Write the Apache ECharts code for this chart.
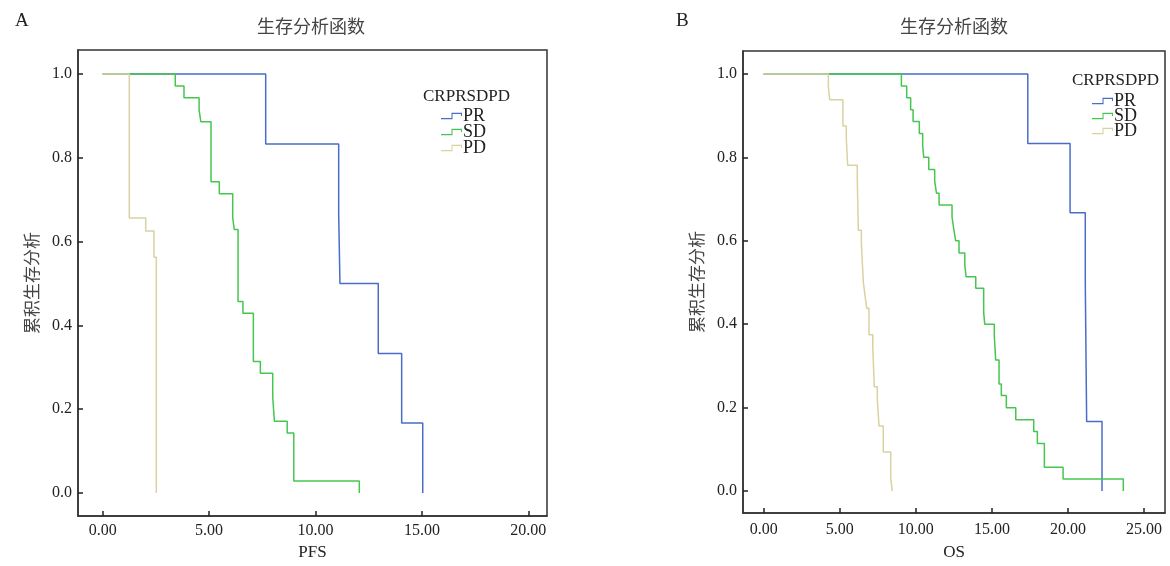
<!DOCTYPE html>
<html>
<head>
<meta charset="utf-8">
<script src="https://cdn.jsdelivr.net/npm/echarts@6/dist/echarts.min.js"></script>
<style>
  html, body { margin: 0; padding: 0; background: #fff; }
  #chart { width: 1170px; height: 566px; }
</style>
</head>
<body>
<div id="chart"></div>
<script>
// 分组
const groups = ['PR', 'SD', 'PD'];
const groupColors = ['#4a6cc9', '#45c64f', '#d9d2a0'];

// PFS (A) 生存时间 / 累积生存率
const pfsTimePR = [0, 7.66, 11.09, 11.15, 12.95, 14.05, 15.04];
const pfsSurvPR = [1, 0.833, 0.667, 0.5, 0.333, 0.167, 0];
const pfsTimeSD = [0, 3.41, 3.82, 4.53, 4.61, 5.09, 5.48, 6.11, 6.18, 6.36, 6.59, 7.08, 7.41, 7.99, 8.07, 8.67, 8.98, 12.06];
const pfsSurvSD = [1, 0.971, 0.943, 0.914, 0.886, 0.743, 0.714, 0.657, 0.629, 0.457, 0.429, 0.314, 0.286, 0.229, 0.171, 0.143, 0.029, 0];
const pfsTimePD = [0, 1.25, 2.02, 2.41, 2.52];
const pfsSurvPD = [1, 0.656, 0.625, 0.5625, 0];

// OS (B)
const osTimePR = [0, 17.36, 20.14, 21.14, 21.23, 22.24];
const osSurvPR = [1, 0.833, 0.667, 0.5, 0.167, 0];
const osTimeSD = [0, 9.05, 9.40, 9.66, 9.82, 10.23, 10.45, 10.52, 10.85, 11.24, 11.36, 11.53, 12.38, 12.49, 12.62, 12.84, 13.22, 13.30, 13.94, 14.46, 14.53, 15.16, 15.25, 15.47, 15.62, 15.95, 16.57, 17.75, 17.99, 18.45, 19.68, 23.64];
const osSurvSD = [1, 0.971, 0.943, 0.914, 0.886, 0.857, 0.829, 0.8, 0.771, 0.743, 0.714, 0.686, 0.657, 0.629, 0.6, 0.571, 0.543, 0.514, 0.486, 0.429, 0.4, 0.371, 0.314, 0.257, 0.229, 0.2, 0.171, 0.143, 0.114, 0.057, 0.029, 0];
const osTimePD = [0, 4.25, 4.34, 5.21, 5.43, 5.52, 6.15, 6.22, 6.42, 6.55, 6.66, 6.77, 6.92, 7.17, 7.27, 7.47, 7.58, 7.86, 8.35, 8.45];
const osSurvPD = [1, 0.969, 0.938, 0.875, 0.844, 0.781, 0.75, 0.625, 0.594, 0.5, 0.469, 0.438, 0.375, 0.344, 0.25, 0.219, 0.156, 0.094, 0.031, 0];

// 刻度
const pfsTicks = [0, 5, 10, 15, 20];
const osTicks = [0, 5, 10, 15, 20, 25];
const survTicks = [0, 0.2, 0.4, 0.6, 0.8, 1.0];

const font = "'Liberation Serif', 'Noto Sans CJK SC', serif";
const cjkFont = "'Noto Sans CJK SC', sans-serif";
const stepIcon = 'path://M0,5 L10,5 L10,0 L20,0 L20,3 L19,3 L19,1 L11,1 L11,6 L0,6 Z';

function zip(t, s) {
  return t.map((v, i) => [v, s[i]]);
}

function xAxisOf(gridIndex, min, max, ticks, name, nameGap, labelMargin) {
  return {
    type: 'value', gridIndex, min, max, name, nameGap,
    nameLocation: 'middle',
    nameTextStyle: { fontFamily: font, fontSize: 17, color: '#222' },
    axisLine: { show: true, onZero: false, lineStyle: { color: '#333', width: 1.5 } },
    axisTick: { show: true, inside: true, length: 5, customValues: ticks, lineStyle: { color: '#222', width: 1.5 } },
    axisLabel: {
      customValues: ticks, margin: labelMargin,
      formatter: v => v.toFixed(2),
      fontFamily: font, fontSize: 16, color: '#222'
    },
    splitLine: { show: false }
  };
}

function yAxisOf(gridIndex, min, max) {
  return {
    type: 'value', gridIndex, min, max,
    name: '累积生存分析',
    nameLocation: 'middle', nameGap: 38, nameRotate: 90,
    nameTextStyle: { fontFamily: cjkFont, fontSize: 17, color: '#444' },
    axisLine: { show: true, onZero: false, lineStyle: { color: '#333', width: 1.5 } },
    axisTick: { show: true, inside: true, length: 5, customValues: survTicks, lineStyle: { color: '#222', width: 1.5 } },
    axisLabel: {
      customValues: survTicks, margin: 6,
      formatter: v => v.toFixed(1),
      fontFamily: font, fontSize: 16, color: '#222'
    },
    splitLine: { show: false }
  };
}

function stepSeries(name, idx, gridIdx, data) {
  return {
    name, type: 'line', step: 'end',
    xAxisIndex: gridIdx, yAxisIndex: gridIdx,
    showSymbol: false, silent: true,
    data,
    itemStyle: { color: groupColors[idx] },
    lineStyle: { color: groupColors[idx], width: 1.5 }
  };
}

function legendOf(left, top, gap) {
  return {
    data: groups, orient: 'vertical', left, top,
    icon: stepIcon, itemWidth: 21, itemHeight: 7, itemGap: gap, padding: 0,
    itemStyle: { borderWidth: 0 },
    selectedMode: false,
    textStyle: { fontFamily: font, fontSize: 18, color: '#222', padding: [0, 0, 0, -4] }
  };
}

let myChart = echarts.init(document.getElementById('chart'));

let option = {
  animation: false,
  backgroundColor: '#fff',
  title: [
    { text: 'A', left: 10, top: 7, textStyle: { fontFamily: font, fontSize: 19, fontWeight: 'normal', color: '#222' } },
    { text: 'B', left: 671, top: 7, textStyle: { fontFamily: font, fontSize: 19, fontWeight: 'normal', color: '#222' } },
    { text: '生存分析函数', left: 306, top: 12, textAlign: 'center', textStyle: { fontFamily: cjkFont, fontSize: 18, fontWeight: 'normal', color: '#444' } },
    { text: '生存分析函数', left: 949, top: 12, textAlign: 'center', textStyle: { fontFamily: cjkFont, fontSize: 18, fontWeight: 'normal', color: '#444' } },
    { text: 'CRPRSDPD', left: 418, top: 83, textStyle: { fontFamily: font, fontSize: 17, fontWeight: 'normal', color: '#222' } },
    { text: 'CRPRSDPD', left: 1067, top: 67, textStyle: { fontFamily: font, fontSize: 17, fontWeight: 'normal', color: '#222' } }
  ],
  legend: [
    legendOf(441, 107, -2),
    legendOf(1092, 92, -3)
  ],
  grid: [
    { left: 78, top: 50, width: 469, height: 467, show: true, borderColor: '#333', borderWidth: 1.5, backgroundColor: 'transparent' },
    { left: 743, top: 51, width: 422, height: 464, show: true, borderColor: '#333', borderWidth: 1.5, backgroundColor: 'transparent' }
  ],
  xAxis: [
    xAxisOf(0, -1.161, 20.88, pfsTicks, 'PFS', 28, 7),
    xAxisOf(1, -1.361, 26.38, osTicks, 'OS', 31, 9)
  ],
  yAxis: [
    yAxisOf(0, -0.0548, 1.0571),
    yAxisOf(1, -0.0525, 1.0549)
  ],
  series: [
    stepSeries('PR', 0, 0, zip(pfsTimePR, pfsSurvPR)),
    stepSeries('SD', 1, 0, zip(pfsTimeSD, pfsSurvSD)),
    stepSeries('PD', 2, 0, zip(pfsTimePD, pfsSurvPD)),
    stepSeries('PR', 0, 1, zip(osTimePR, osSurvPR)),
    stepSeries('SD', 1, 1, zip(osTimeSD, osSurvSD)),
    stepSeries('PD', 2, 1, zip(osTimePD, osSurvPD))
  ]
};

myChart.setOption(option, true);
window.addEventListener('resize', () => {
  myChart.resize();
});
</script>
</body>
</html>
